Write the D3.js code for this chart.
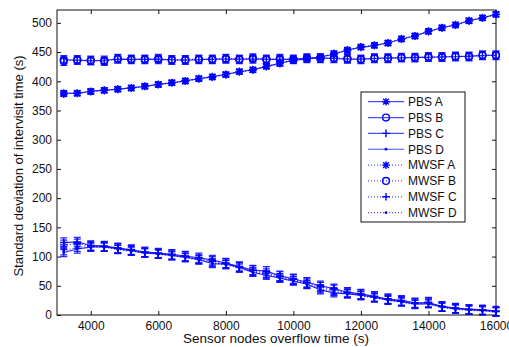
<!DOCTYPE html>
<html>
<head>
<meta charset="utf-8">
<script src="https://cdn.jsdelivr.net/npm/d3@7"></script>
<style>
  body { margin: 0; background: #fff; }
  text { font-family: "Liberation Sans", Arial, sans-serif; fill: #111; }
</style>
</head>
<body>
<div id="chart"></div>
<script>
// x positions (s)
var overflowTimes = [3200, 3600, 4000, 4400, 4800, 5200, 5600, 6000, 6400, 6800, 7200,
    7600, 8000, 8400, 8800, 9200, 9600, 10000, 10400, 10800, 11200, 11600, 12000,
    12400, 12800, 13200, 13600, 14000, 14400, 14800, 15200, 15600, 16000];

// std deviation of intervisit time (s)
var pbsA = [380, 379, 383, 385, 386, 389, 391, 395, 397, 401, 404, 408, 412, 416, 420, 425, 431,
    436, 438, 442, 446, 454, 458, 461, 466, 472, 478, 485, 492, 496, 504, 508, 515];
var pbsB = [437, 436, 435, 436, 438, 437, 438, 437, 437, 436, 437, 438, 438, 438, 438, 438, 437,
    438, 439, 440, 439, 438, 438, 439, 440, 440, 441, 441, 442, 442, 443, 444, 445];
var pbsC = [124, 125, 119, 118, 115, 111, 108, 106, 104, 101, 98, 94, 89, 83, 77, 75, 67,
    62, 56, 50, 45, 39, 36, 32, 27, 25, 21, 21, 15, 12, 10, 9, 7];
var pbsD = [107, 113, 116, 117, 113, 110, 106, 105, 102, 99, 95, 88, 87, 82, 73, 68, 63,
    58, 53, 43, 38, 36, 34, 30, 26, 23, 19, 19, 14, 11, 9, 8, 6];
var mwsfA = [378, 380, 382, 384, 387, 388, 392, 394, 398, 400, 405, 407, 411, 417, 419, 426, 430,
    437, 440, 441, 448, 452, 459, 462, 465, 473, 477, 486, 491, 497, 503, 509, 514];
var mwsfB = [434, 437, 436, 434, 439, 438, 437, 439, 436, 437, 438, 437, 439, 437, 440, 437, 439,
    437, 440, 439, 440, 439, 437, 440, 439, 441, 440, 442, 441, 443, 442, 445, 444];
var mwsfC = [120, 122, 118, 117, 114, 112, 107, 105, 103, 100, 96, 92, 88, 82, 76, 72, 66,
    61, 55, 48, 43, 38, 35, 31, 28, 24, 20, 22, 14, 11, 9, 8, 6];
var mwsfD = [110, 116, 117, 116, 112, 109, 107, 104, 101, 98, 94, 90, 86, 80, 74, 70, 64,
    59, 52, 45, 40, 37, 33, 29, 25, 22, 18, 20, 13, 10, 8, 7, 5];

// error bar half-heights per series
var seriesNames = ["PBS A", "PBS B", "PBS C", "PBS D", "MWSF A", "MWSF B", "MWSF C", "MWSF D"];
var seriesValues = [pbsA, pbsB, pbsC, pbsD, mwsfA, mwsfB, mwsfC, mwsfD];
var errorSizes = [4, 7, 8, 7, 4, 7, 8, 7];
var markerTypes = ["star", "circle", "plus", "dot", "star", "circle", "plus", "dot"];

var xTicks = [4000, 6000, 8000, 10000, 12000, 14000, 16000];
var yTicks = [0, 50, 100, 150, 200, 250, 300, 350, 400, 450, 500];

// sizes
var svgWidth = 509;
var svgHeight = 347;
var margin = {top: 10, right: 13, bottom: 32, left: 57};
var chartWidth = svgWidth - margin.left - margin.right;
var chartHeight = svgHeight - margin.top - margin.bottom;
var blue = "#0000ff";

var svg = d3.select("#chart")
    .append("svg")
    .attr("width", svgWidth)
    .attr("height", svgHeight);

var chartGroup = svg.append("g")
    .attr("transform", `translate(${margin.left}, ${margin.top})`);

var xScale = d3.scaleLinear().domain([3000, 16000]).range([0, chartWidth]);
var yScale = d3.scaleLinear().domain([0, 522]).range([chartHeight, 0]);

// axes, MATLAB style inward ticks on all sides
chartGroup.append("g")
    .attr("transform", `translate(0, ${chartHeight})`)
    .call(d3.axisBottom(xScale).tickValues(xTicks).tickFormat(d3.format("d"))
        .tickSizeInner(-4).tickSizeOuter(0).tickPadding(6))
    .call(g => g.select(".domain").remove());
chartGroup.append("g")
    .call(d3.axisTop(xScale).tickValues(xTicks).tickSizeInner(-4).tickSizeOuter(0).tickFormat(""))
    .call(g => g.select(".domain").remove());
chartGroup.append("g")
    .call(d3.axisLeft(yScale).tickValues(yTicks).tickFormat(d3.format("d"))
        .tickSizeInner(-4).tickSizeOuter(0).tickPadding(5))
    .call(g => g.select(".domain").remove());
chartGroup.append("g")
    .attr("transform", `translate(${chartWidth}, 0)`)
    .call(d3.axisRight(yScale).tickValues(yTicks).tickSizeInner(-4).tickSizeOuter(0).tickFormat(""))
    .call(g => g.select(".domain").remove());

chartGroup.selectAll(".tick text")
    .attr("font-size", "12px")
    .attr("font-family", "Liberation Sans, Arial, sans-serif")
    .attr("fill", "#111");
chartGroup.selectAll(".tick line").attr("stroke", "#111");

chartGroup.append("rect")
    .attr("width", chartWidth)
    .attr("height", chartHeight)
    .attr("fill", "none")
    .attr("stroke", "#111")
    .attr("stroke-width", 1);

// marker drawing
function drawMarker(g, type, x, y) {
    var s = 3.8;
    if (type == "star") {
        g.append("path")
            .attr("d", `M${x - s},${y}H${x + s}M${x},${y - s}V${y + s}` +
                `M${x - s * 0.75},${y - s * 0.75}L${x + s * 0.75},${y + s * 0.75}` +
                `M${x - s * 0.75},${y + s * 0.75}L${x + s * 0.75},${y - s * 0.75}`)
            .attr("stroke", blue).attr("stroke-width", 1.4).attr("fill", "none");
    } else if (type == "circle") {
        g.append("circle").attr("cx", x).attr("cy", y).attr("r", 3.4)
            .attr("stroke", blue).attr("stroke-width", 1.4).attr("fill", "none");
    } else if (type == "plus") {
        g.append("path")
            .attr("d", `M${x - s},${y}H${x + s}M${x},${y - s}V${y + s}`)
            .attr("stroke", blue).attr("stroke-width", 1.4).attr("fill", "none");
    } else {
        g.append("circle").attr("cx", x).attr("cy", y).attr("r", 1.4).attr("fill", blue);
    }
}

var line = d3.line()
    .x((d, i) => xScale(overflowTimes[i]))
    .y(d => yScale(d));

var plotGroup = chartGroup.append("g");

seriesValues.forEach(function (values, k) {
    var dotted = seriesNames[k].indexOf("MWSF") == 0;
    var g = plotGroup.append("g");

    g.append("path")
        .datum(values)
        .attr("d", line)
        .attr("fill", "none")
        .attr("stroke", blue)
        .attr("stroke-opacity", 0.85)
        .attr("stroke-width", 1.2)
        .attr("stroke-dasharray", dotted ? "1,2" : null);

    // error bars
    values.forEach(function (v, i) {
        var x = xScale(overflowTimes[i]);
        var y1 = yScale(v - errorSizes[k]);
        var y2 = yScale(v + errorSizes[k]);
        g.append("path")
            .attr("d", `M${x},${y1}V${y2}M${x - 3.5},${y1}H${x + 3.5}M${x - 3.5},${y2}H${x + 3.5}`)
            .attr("stroke", blue)
            .attr("stroke-opacity", 0.85)
            .attr("stroke-width", 1.2)
            .attr("fill", "none");
    });

    values.forEach(function (v, i) {
        drawMarker(g, markerTypes[k], xScale(overflowTimes[i]), yScale(v));
    });
});

// legend
var legend = svg.append("g").attr("transform", "translate(361, 92)");
legend.append("rect")
    .attr("width", 104)
    .attr("height", 130)
    .attr("fill", "#fff")
    .attr("stroke", "#111")
    .attr("stroke-width", 1);

seriesNames.forEach(function (name, k) {
    var y = 9.7 + k * 15.85;
    var dotted = name.indexOf("MWSF") == 0;
    legend.append("line")
        .attr("x1", 7).attr("x2", 43)
        .attr("y1", y).attr("y2", y)
        .attr("stroke", blue)
        .attr("stroke-opacity", 0.7)
        .attr("stroke-width", 1.2)
        .attr("stroke-dasharray", dotted ? "1,2" : null);
    drawMarker(legend, markerTypes[k], 25, y);
    legend.append("text")
        .attr("x", 47)
        .attr("y", y)
        .attr("dy", "0.36em")
        .attr("font-size", "12px")
        .text(name);
});

// axis labels
svg.append("text")
    .attr("transform", "rotate(-90)")
    .attr("x", -166)
    .attr("y", 23)
    .attr("text-anchor", "middle")
    .attr("font-size", "13px")
    .text("Standard deviation of intervisit time (s)");

svg.append("text")
    .attr("x", 276)
    .attr("y", 343)
    .attr("text-anchor", "middle")
    .attr("font-size", "13.5px")
    .text("Sensor nodes overflow time (s)");
</script>
</body>
</html>
